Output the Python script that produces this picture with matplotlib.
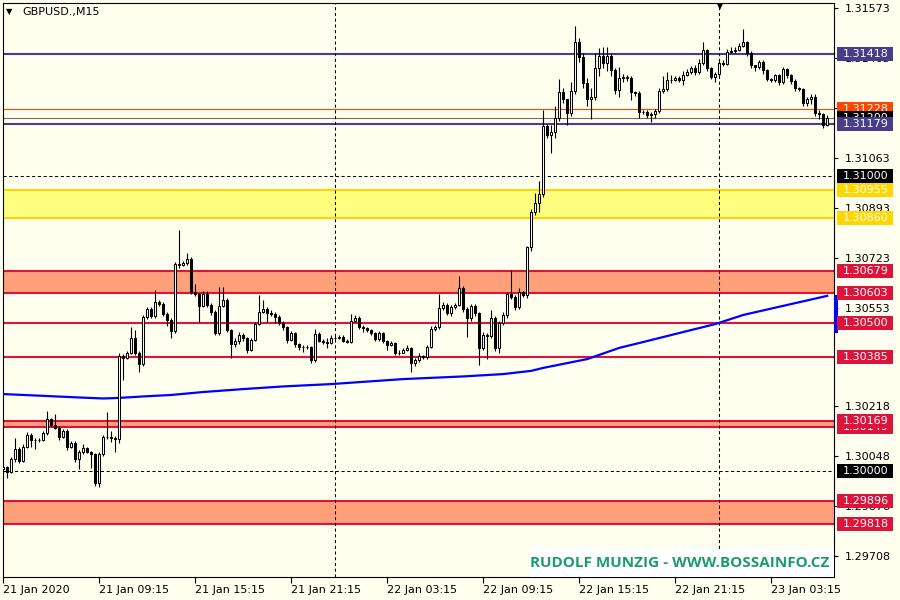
import matplotlib
matplotlib.use('Agg')
import matplotlib.pyplot as plt
import matplotlib.transforms as mtransforms
from matplotlib.patches import Rectangle
import numpy as np

# ---- data (prices in points, 1e-5) ----
symbol_title = 'GBPUSD.,M15'
watermark = 'RUDOLF MUNZIG - WWW.BOSSAINFO.CZ'

first_open_pts = 130005
close_pts = [
    130012, 129995, 130039, 130073, 130033, 130080, 130121, 130104, 130104, 130104,
    130128, 130175, 130155, 130145, 130114, 130135, 130080, 130094, 130039, 130063,
    130077, 130063, 130056, 129958, 130056, 130114, 130114, 130111, 130107, 130390,
    130383, 130400, 130451, 130400, 130362, 130522, 130549, 130526, 130573, 130566,
    130532, 130512, 130475, 130702, 130699, 130706, 130719, 130607, 130600, 130560,
    130600, 130563, 130539, 130468, 130560, 130580, 130478, 130430, 130441, 130461,
    130451, 130410, 130444, 130498, 130539, 130549, 130536, 130532, 130522, 130502,
    130488, 130444, 130468, 130430, 130420, 130420, 130420, 130376, 130464, 130441,
    130437, 130434, 130451, 130451, 130454, 130441, 130437, 130509, 130519, 130488,
    130485, 130478, 130468, 130447, 130468, 130441, 130427, 130434, 130400, 130400,
    130410, 130417, 130366, 130376, 130390, 130386, 130420, 130481, 130488, 130553,
    130563, 130536, 130556, 130563, 130621, 130549, 130519, 130560, 130536, 130417,
    130461, 130458, 130519, 130417, 130502, 130529, 130600, 130590, 130556, 130607,
    130597, 130760, 130879, 130910, 130940, 131172, 131141, 131151, 131199, 131287,
    131263, 131216, 131291, 131457, 131406, 131318, 131263, 131270, 131369, 131410,
    131386, 131410, 131362, 131294, 131335, 131338, 131335, 131287, 131284, 131219,
    131219, 131209, 131212, 131223, 131291, 131297, 131328, 131328, 131335, 131328,
    131345, 131355, 131369, 131355, 131386, 131430, 131369, 131338, 131348, 131386,
    131382, 131423, 131427, 131430, 131444, 131457, 131420, 131379, 131372, 131389,
    131362, 131331, 131328, 131345, 131321, 131365, 131345, 131325, 131301, 131297,
    131250, 131263, 131270, 131216, 131212, 131175, 131200,
]
high_pts = [
    130020, 130015, 130045, 130111, 130080, 130090, 130131, 130128, 130112, 130110,
    130134, 130203, 130180, 130193, 130150, 130140, 130140, 130100, 130100, 130070,
    130090, 130080, 130068, 130060, 130063, 130120, 130200, 130135, 130118, 130398,
    130395, 130406, 130488, 130478, 130405, 130530, 130556, 130555, 130614, 130580,
    130572, 130540, 130518, 130710, 130818, 130712, 130740, 130725, 130635, 130605,
    130610, 130610, 130570, 130545, 130624, 130624, 130585, 130480, 130450, 130470,
    130468, 130455, 130450, 130505, 130597, 130580, 130555, 130545, 130540, 130528,
    130510, 130490, 130475, 130470, 130435, 130428, 130426, 130424, 130482, 130470,
    130448, 130450, 130460, 130458, 130460, 130460, 130447, 130532, 130530, 130525,
    130495, 130488, 130482, 130470, 130475, 130472, 130445, 130440, 130438, 130410,
    130416, 130428, 130420, 130382, 130400, 130392, 130426, 130490, 130495, 130600,
    130572, 130568, 130562, 130570, 130662, 130627, 130555, 130567, 130566, 130540,
    130470, 130466, 130545, 130525, 130510, 130540, 130608, 130682, 130598, 130620,
    130612, 130765, 130890, 130945, 130985, 131226, 131178, 131175, 131240, 131331,
    131300, 131265, 131320, 131512, 131470, 131420, 131335, 131300, 131420, 131436,
    131440, 131440, 131420, 131370, 131372, 131350, 131345, 131340, 131292, 131290,
    131225, 131225, 131220, 131230, 131300, 131340, 131355, 131345, 131340, 131340,
    131358, 131365, 131375, 131378, 131398, 131457, 131435, 131372, 131355, 131395,
    131395, 131435, 131440, 131440, 131455, 131501, 131460, 131425, 131380, 131395,
    131395, 131365, 131335, 131350, 131350, 131372, 131370, 131350, 131330, 131305,
    131300, 131270, 131280, 131280, 131225, 131215, 131210,
]
low_pts = [
    129995, 129975, 129990, 130030, 130025, 130028, 130075, 130080, 130073, 130098,
    130100, 130122, 130150, 130140, 130105, 130110, 130070, 130075, 130030, 130005,
    130055, 130058, 130010, 129948, 129945, 130050, 130108, 130098, 130063, 130095,
    130308, 130378, 130395, 130392, 130335, 130355, 130515, 130520, 130518, 130558,
    130525, 130490, 130451, 130468, 130690, 130695, 130700, 130600, 130595, 130505,
    130555, 130555, 130530, 130460, 130460, 130555, 130470, 130383, 130420, 130430,
    130440, 130400, 130405, 130440, 130495, 130535, 130505, 130525, 130500, 130495,
    130478, 130435, 130440, 130420, 130410, 130402, 130412, 130366, 130370, 130436,
    130430, 130415, 130430, 130446, 130446, 130436, 130432, 130435, 130505, 130480,
    130470, 130472, 130460, 130440, 130440, 130435, 130410, 130425, 130393, 130392,
    130398, 130405, 130335, 130355, 130370, 130378, 130380, 130415, 130476, 130482,
    130545, 130528, 130525, 130550, 130558, 130540, 130455, 130510, 130526, 130359,
    130410, 130380, 130452, 130405, 130400, 130495, 130520, 130582, 130545, 130548,
    130590, 130585, 130745, 130870, 130880, 130930, 131130, 131080, 131130, 131190,
    131250, 131175, 131205, 131280, 131390, 131300, 131240, 131195, 131260, 131340,
    131370, 131360, 131340, 131280, 131270, 131320, 131325, 131260, 131275, 131200,
    131212, 131200, 131185, 131200, 131215, 131285, 131290, 131318, 131325, 131320,
    131310, 131340, 131350, 131345, 131350, 131380, 131360, 131330, 131320, 131340,
    131375, 131378, 131420, 131420, 131425, 131440, 131410, 131368, 131360, 131365,
    131350, 131325, 131320, 131322, 131310, 131315, 131335, 131315, 131290, 131290,
    131240, 131240, 131245, 131205, 131195, 131165, 131170,
]

# moving average read at a few bars
ma_bars = [0, 5, 10, 18, 25, 29, 35, 42, 50, 60, 70, 82, 100, 115, 125, 132,
           135, 146, 154, 160, 170, 178, 185, 195, 206]
ma_pts = [130260, 130257, 130254, 130249, 130245, 130247, 130252, 130257, 130267,
          130277, 130286, 130294, 130311, 130320, 130328, 130339, 130349, 130379,
          130417, 130437, 130471, 130498, 130529, 130560, 130594]

time_labels = ['21 Jan 2020', '21 Jan 09:15', '21 Jan 15:15', '21 Jan 21:15',
               '22 Jan 03:15', '22 Jan 09:15', '22 Jan 15:15', '22 Jan 21:15',
               '23 Jan 03:15']
time_label_bars = [0, 24, 48, 72, 96, 120, 144, 168, 192]
day_separator_bars = [83, 179]

price_ticks = [1.31573, 1.31403, 1.31233, 1.31063, 1.30893, 1.30723, 1.30553,
               1.30218, 1.30048, 1.29878, 1.29708]

navy_levels = [1.31418, 1.31179]
ask_level = 1.31228
bid_level = 1.31200
round_levels = [1.31000, 1.30000]
gold_zone = (1.30860, 1.30955)
red_zones = [(1.30603, 1.30679), (1.30149, 1.30169), (1.29818, 1.29896)]
red_levels = [1.30500, 1.30385]
ma_marker = (1.30468, 1.30597)

# right-hand price boxes, in drawing order
box_prices = [1.31418, 1.31228, 1.31200, 1.31179, 1.31000, 1.30955, 1.30860,
              1.30679, 1.30603, 1.30500, 1.30385, 1.30149, 1.30169, 1.30000,
              1.29896, 1.29818]

# ---- colours ----
BG = '#FFFFF0'
NAVY = '#483D8B'
RED = '#DC143C'
SALMON = '#FFA07A'
GOLD = '#FFD700'
YELLOW = '#FFFF80'
box_colors = [NAVY, '#FF4500', 'black', NAVY, 'black', GOLD, GOLD,
              RED, RED, RED, RED, RED, RED, 'black', RED, RED]

opens = np.array([first_open_pts] + close_pts[:-1]) / 1e5
closes = np.array(close_pts) / 1e5
highs = np.array(high_pts) / 1e5
lows = np.array(low_pts) / 1e5
idx = np.arange(len(closes))

fig = plt.figure(figsize=(9, 6), dpi=100, facecolor=BG)
ax = fig.add_axes([2.5 / 900, 23 / 600, 831.5 / 900, 574.5 / 600], facecolor=BG)
ymin, ymax = 1.29638, 1.315915
ax.set_ylim(ymin, ymax)
ax.set_xlim(-0.2, 207.7)
px_per_price = 574.5 / (ymax - ymin)

# zones and levels
ax.axhspan(*gold_zone, color=YELLOW, lw=0, zorder=1)
for p in gold_zone:
    ax.axhline(p, color=GOLD, lw=1.5, zorder=2)
for lo, hi in red_zones:
    ax.axhspan(lo, hi, color=SALMON, lw=0, zorder=1)
    ax.axhline(lo, color=RED, lw=1.5, zorder=2)
    ax.axhline(hi, color=RED, lw=1.5, zorder=2)
for p in red_levels:
    ax.axhline(p, color=RED, lw=1.5, zorder=2)
for p in navy_levels:
    ax.axhline(p, color=NAVY, lw=1.5, zorder=2)
ax.axhline(ask_level, color='#FF4500', lw=0.8, zorder=2)
ax.axhline(bid_level, color='#707070', lw=0.8, zorder=2)
for p in round_levels:
    ax.axhline(p, color='black', lw=0.75, ls=(0, (3, 2.5)), zorder=2)
for b in day_separator_bars:
    ax.axvline(b, color='black', lw=0.75, ls=(0, (3, 2.5)), zorder=2)

# moving average
ax.plot(ma_bars, np.array(ma_pts) / 1e5, color='#0000FF', lw=1.6, zorder=3)

# candles
ax.vlines(idx, lows, highs, color='black', lw=0.8, zorder=4)
up = closes >= opens
ax.bar(idx[up], closes[up] - opens[up], bottom=opens[up], width=0.55,
       color='white', edgecolor='black', linewidth=0.75, zorder=5)
ax.bar(idx[~up], opens[~up] - closes[~up], bottom=closes[~up], width=0.55,
       color='black', edgecolor='black', linewidth=0.75, zorder=5)

# axes styling
for s in ax.spines.values():
    s.set_color('black')
    s.set_linewidth(0.8)
ax.yaxis.tick_right()
ax.set_yticks(price_ticks)
ax.set_yticklabels([f'{t:.5f}' for t in price_ticks])
ax.tick_params(axis='y', length=3, width=0.8, pad=5, labelsize=8, colors='black')
ax.set_xticks(time_label_bars)
ax.set_xticklabels(time_labels)
ax.tick_params(axis='x', length=4, width=0.8, pad=2, labelsize=8)
for lbl in ax.get_xticklabels():
    lbl.set_horizontalalignment('left')

# right price boxes
trans = mtransforms.blended_transform_factory(fig.transFigure, ax.transData)
box_h = 14 / px_per_price
fig.add_artist(Rectangle((834 / 900, ma_marker[0]), 3.5 / 900, ma_marker[1] - ma_marker[0],
                         transform=trans, facecolor='#0000FF', edgecolor='none', zorder=2))
for i, (p, c) in enumerate(zip(box_prices, box_colors)):
    z = 3 + i
    fig.add_artist(Rectangle((837 / 900, p - box_h / 2), 56 / 900, box_h, transform=trans,
                             facecolor=c, edgecolor='none', zorder=z))
    fig.text(843 / 900, p, f'{p:.5f}', transform=trans, color='white', fontsize=8,
             va='center', ha='left', zorder=z + 0.5)

# title and markers
fig.text(6 / 900, 1 - 12 / 600, '\u25BC', fontsize=6, va='center', ha='left')
fig.text(22 / 900, 1 - 12 / 600, symbol_title, fontsize=8, va='center', ha='left')
fig.text(720 / 900, 1 - 7 / 600, '\u25BC', fontsize=5.5, va='center', ha='center')

# watermark
fig.add_artist(Rectangle((530 / 900, 23.5 / 600), 303.5 / 900, 28 / 600,
                         transform=fig.transFigure, facecolor='white', edgecolor='none',
                         zorder=20))
fig.text(829 / 900, 1 - 563 / 600, watermark, fontsize=11, fontweight='bold',
         family='Open Sans', color='#1C9C6C', ha='right', va='center', zorder=21)

fig.savefig('out.png', dpi=100, facecolor=BG)
